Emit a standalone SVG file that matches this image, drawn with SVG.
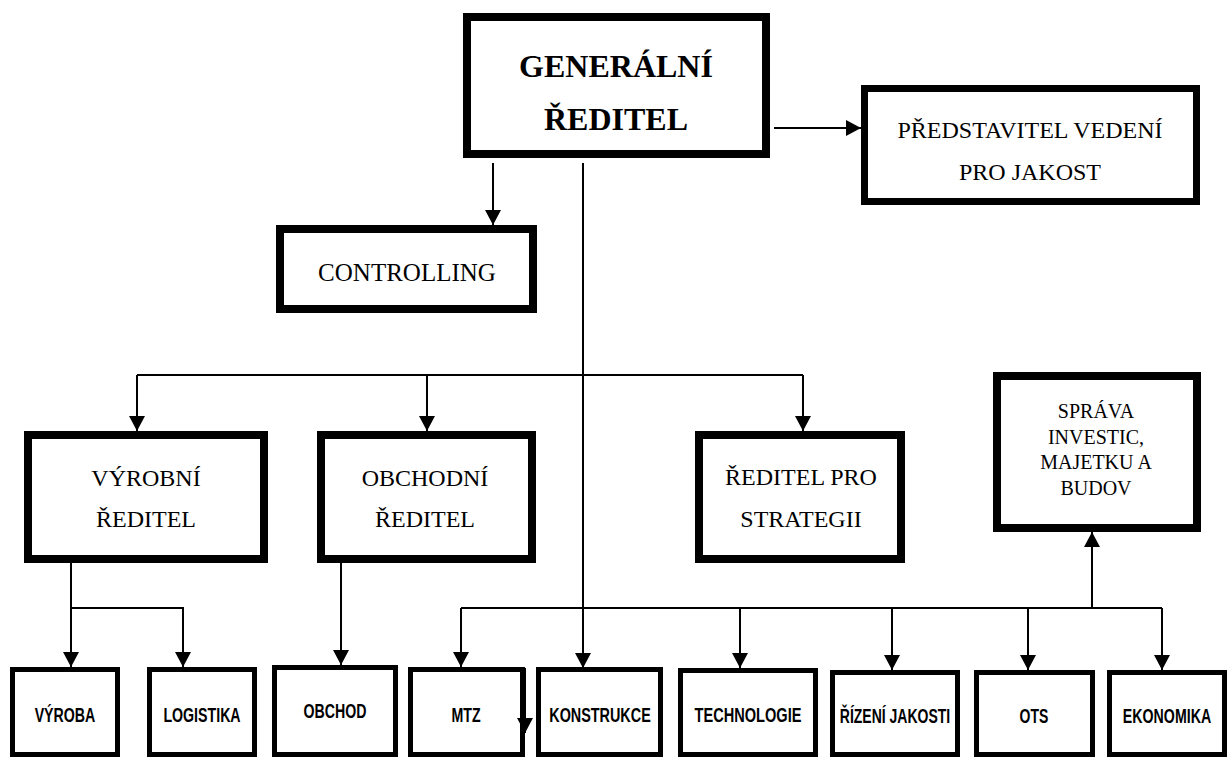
<svg xmlns="http://www.w3.org/2000/svg" width="1228" height="758" viewBox="0 0 1228 758">
  <style>
    .box { fill: #fff; stroke: #000; stroke-width: 8; }
    .box7 { fill: #fff; stroke: #000; stroke-width: 7; }
    .leaf { fill: #fff; stroke: #000; stroke-width: 5; }
    .serif { font-family: "Liberation Serif", "Times New Roman", serif; fill: #000; text-anchor: middle; }
    .head { font-size: 32px; font-weight: bold; }
    .mid { font-size: 24px; }
    .small { font-size: 20px; }
    .sans { font-family: "Liberation Sans", Arial, sans-serif; font-weight: bold; font-size: 20px; fill: #000; text-anchor: middle; }
    .wire { fill: none; stroke: #000; stroke-width: 2; }
  </style>
  <defs>
    <marker id="arrow" markerUnits="userSpaceOnUse" markerWidth="15" markerHeight="16" refX="15" refY="8" orient="auto">
      <path d="M0,0 L15,8 L0,16 z" fill="#000"/>
    </marker>
  </defs>

  <rect width="1228" height="758" fill="#fff"/>

  <!-- connectors -->
  <g id="connectors" class="wire">
    <path d="M774,128 H861" marker-end="url(#arrow)"/>
    <path d="M493,163 V225" marker-end="url(#arrow)"/>
    <path d="M583,163 V668" marker-end="url(#arrow)"/>
    <path d="M137,375 H803"/>
    <path d="M137,375 V431" marker-end="url(#arrow)"/>
    <path d="M427,375 V431" marker-end="url(#arrow)"/>
    <path d="M803,375 V431" marker-end="url(#arrow)"/>
    <path d="M71,563 V667" marker-end="url(#arrow)"/>
    <path d="M71,608 H183 V667" marker-end="url(#arrow)"/>
    <path d="M341,563 V665" marker-end="url(#arrow)"/>
    <path d="M461,608 H1162"/>
    <path d="M461,608 V667" marker-end="url(#arrow)"/>
    <path d="M740,608 V668" marker-end="url(#arrow)"/>
    <path d="M892,608 V670" marker-end="url(#arrow)"/>
    <path d="M1028,608 V670" marker-end="url(#arrow)"/>
    <path d="M1162,608 V670" marker-end="url(#arrow)"/>
    <path d="M1092,608 V532" marker-end="url(#arrow)"/>
  </g>

  <g id="generalni-reditel">
    <rect class="box" x="467" y="17" width="299" height="137"/>
    <text class="serif head" x="616" y="77">GENERÁLNÍ</text>
    <text class="serif head" x="616" y="130">ŘEDITEL</text>
  </g>

  <g id="predstavitel-vedeni">
    <rect class="box7" x="864.5" y="88.5" width="332" height="113"/>
    <text class="serif mid" x="1030" y="138">PŘEDSTAVITEL VEDENÍ</text>
    <text class="serif mid" x="1030" y="180">PRO JAKOST</text>
  </g>

  <g id="controlling">
    <rect class="box" x="280" y="229" width="253" height="80"/>
    <text class="serif" font-size="25" x="407" y="281">CONTROLLING</text>
  </g>

  <g id="vyrobni-reditel">
    <rect class="box" x="28" y="435" width="236" height="124"/>
    <text class="serif mid" x="146" y="486">VÝROBNÍ</text>
    <text class="serif mid" x="146" y="527">ŘEDITEL</text>
  </g>

  <g id="obchodni-reditel">
    <rect class="box" x="321" y="435" width="211" height="124"/>
    <text class="serif mid" x="425" y="486">OBCHODNÍ</text>
    <text class="serif mid" x="425" y="527">ŘEDITEL</text>
  </g>

  <g id="reditel-pro-strategii">
    <rect class="box" x="699" y="435" width="202" height="124"/>
    <text class="serif mid" x="801" y="485">ŘEDITEL PRO</text>
    <text class="serif mid" x="801" y="527">STRATEGII</text>
  </g>

  <g id="sprava-investic">
    <rect class="box" x="997" y="376" width="200" height="152"/>
    <text class="serif small" x="1096" y="418">SPRÁVA</text>
    <text class="serif small" x="1096" y="444">INVESTIC,</text>
    <text class="serif small" x="1096" y="469">MAJETKU A</text>
    <text class="serif small" x="1096" y="495">BUDOV</text>
  </g>

  <!-- department boxes: condensed bold sans labels -->
  <g id="vyroba">
    <rect class="leaf" x="12.5" y="669.5" width="105" height="85"/>
    <text class="sans" transform="translate(65 722) scale(0.71 1)">VÝROBA</text>
  </g>
  <g id="logistika">
    <rect class="leaf" x="149.5" y="669.5" width="105" height="85"/>
    <text class="sans" transform="translate(202 722) scale(0.71 1)">LOGISTIKA</text>
  </g>
  <g id="obchod">
    <rect class="leaf" x="274.5" y="667.5" width="121" height="87"/>
    <text class="sans" transform="translate(335 718) scale(0.71 1)">OBCHOD</text>
  </g>
  <g id="mtz">
    <rect class="leaf" x="410.5" y="669.5" width="112" height="85"/>
    <text class="sans" transform="translate(466 722) scale(0.71 1)">MTZ</text>
    <path class="wire" d="M525,668 V733" stroke-width="3" marker-end="url(#arrow)"/>
  </g>
  <g id="konstrukce">
    <rect class="leaf" x="538.5" y="669.5" width="122" height="85"/>
    <text class="sans" transform="translate(600 722) scale(0.72 1)">KONSTRUKCE</text>
  </g>
  <g id="technologie">
    <rect class="leaf" x="680.5" y="670.5" width="135" height="84"/>
    <text class="sans" transform="translate(748 722) scale(0.73 1)">TECHNOLOGIE</text>
  </g>
  <g id="rizeni-jakosti">
    <rect class="leaf" x="832.5" y="672.5" width="125" height="82"/>
    <text class="sans" transform="translate(895 723) scale(0.70 1)">ŘÍZENÍ JAKOSTI</text>
  </g>
  <g id="ots">
    <rect class="leaf" x="976.5" y="672.5" width="116" height="82"/>
    <text class="sans" transform="translate(1034 723) scale(0.70 1)">OTS</text>
  </g>
  <g id="ekonomika">
    <rect class="leaf" x="1109.5" y="672.5" width="115" height="82"/>
    <text class="sans" transform="translate(1167 723) scale(0.71 1)">EKONOMIKA</text>
  </g>
</svg>
